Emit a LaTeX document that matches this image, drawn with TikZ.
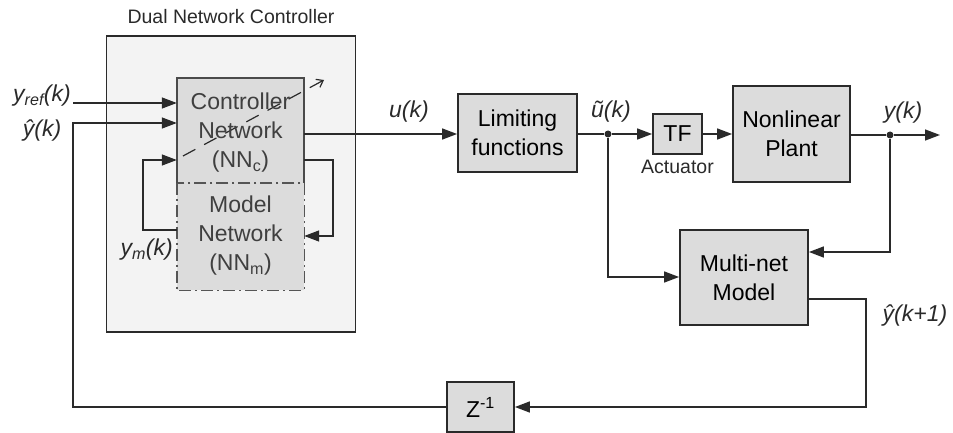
\documentclass[tikz,border=0pt]{standalone}
\usepackage{fontspec}
\setmainfont{Liberation Sans}
\usetikzlibrary{arrows.meta}
\definecolor{boxfill}{HTML}{DCDCDC}
\definecolor{outerfill}{HTML}{F3F3F3}
\definecolor{ink}{HTML}{2A2A2A}
\begin{document}
\begin{tikzpicture}[x=1pt,y=-1pt,
  bigf/.style={font=\fontsize{23}{29}\selectfont},
  smallf/.style={font=\fontsize{19.5}{23}\selectfont},
  blk/.style={draw=ink, line width=1.8pt, fill=boxfill, align=center, inner sep=0pt, bigf},
  ln/.style={line width=1.4pt, draw=ink},
  arr/.style={ln, -{Triangle[length=15pt,width=11pt]}},
  lbl/.style={bigf, inner sep=0pt, text=ink},
  dot/.style={circle, fill=ink, inner sep=0pt, minimum size=7pt},
  ddot/.style={line width=1.4pt, draw=ink!80, dash pattern=on 12pt off 4pt on 2pt off 4pt},
]
\useasboundingbox (0,0) rectangle (953,433);

% outer controller box
\node[draw=ink, line width=1.8pt, fill=outerfill, minimum width=249pt, minimum height=296pt, inner sep=0pt] (dnc) at (231,184) {};
\node[smallf, text=ink] (title) at (231,17) {Dual Network Controller};

% controller network (fill only, edges drawn)
\node[fill=boxfill, minimum width=127pt, minimum height=105pt, inner sep=0pt] (cn) at (240.5,130.5) {};
\node[fill=boxfill, minimum width=127pt, minimum height=107pt, inner sep=0pt] (mn) at (240.5,236.5) {};
\draw[ddot] (mn.north west) -- (mn.south west) -- (mn.south east) -- (mn.north east) -- cycle;
\draw[line width=1.8pt, draw=ink!85] (cn.south west) -- (cn.north west) -- (cn.north east) -- (cn.south east);
% adaptation arrow
\coordinate (ad1) at (183,156);
\coordinate (ad2) at (324,80);
\draw[line width=1.2pt, draw=ink, dash pattern=on 14pt off 10pt, -{Straight Barb[length=6pt,width=9pt]}] (ad1) -- (ad2);
\node[lbl, align=center, text=ink!90] (cnt) at (240.5,133) {Controller\\Network\\(NN\textsubscript{c})};
\node[lbl, align=center, text=ink!90] (mnt) at (240.5,236) {Model\\Network\\(NN\textsubscript{m})};

% other blocks
\node[blk, minimum width=119pt, minimum height=78pt] (lf) at (517.5,133) {Limiting\\functions};
\node[blk, minimum width=49pt, minimum height=40pt] (tf) at (677.5,134) {TF};
\node[smallf, text=ink] (act) at (677.5,167) {Actuator};
\node[blk, minimum width=117pt, minimum height=96pt] (np) at (791.5,134) {Nonlinear\\Plant};
\node[blk, minimum width=128pt, minimum height=95pt] (mm) at (744,277.5) {Multi-net\\Model};
\node[blk, minimum width=67pt, minimum height=50pt] (zb) at (480.5,407) {Z\textsuperscript{-1}};

% labels
\node[lbl, anchor=east] (yref) at (71,96) {\itshape y\textsubscript{ref}(k)};
\node[lbl] (yhat) at (42,131) {\itshape ŷ(k)};
\node[lbl, anchor=east] (ym) at (173,250) {\itshape y\textsubscript{m}(k)};
\node[lbl] (uk) at (409,112) {\itshape u(k)};
\node[lbl] (ut) at (611,112) {\itshape ũ(k)};
\node[lbl] (yk) at (903,113) {\itshape y(k)};
\node[lbl] (yk1) at (915,316) {\itshape ŷ(k+1)};

% coordinates
\coordinate (a1) at (73,103);
\coordinate (yh) at (73,123);
\coordinate (fbl) at (73,407);
\coordinate (lp1) at (143,230);
\coordinate (lp2) at (143,160);
\coordinate (rp1) at (333,160);
\coordinate (rp2) at (333,236);
\coordinate (uo) at (304,134);
\node[dot] (d1) at (608,134) {};
\node[dot] (d2) at (890,135) {};
\coordinate (yout) at (940,135);
\coordinate (d1b) at (608,277);
\coordinate (d2b) at (890,252);
\coordinate (mo) at (808,299);
\coordinate (mo1) at (866,299);
\coordinate (mo2) at (866,407);

% connectors
\draw[arr] (a1) -- (cn.west |- a1);
\draw[arr] (zb.west) -- (fbl) -- (yh) -- (cn.west |- yh);
\draw[arr] (mn.west |- lp1) -- (lp1) -- (lp2) -- (cn.west |- lp2);
\draw[arr] (cn.east |- rp1) -- (rp1) -- (rp2) -- (mn.east |- rp2);
\draw[arr] (uo) -- (lf.west |- uo);
\draw[ln] (lf.east |- d1) -- (d1);
\draw[arr] (d1) -- (tf.west |- d1);
\draw[arr] (tf.east) -- (np.west |- tf.east);
\draw[ln] (np.east |- d2) -- (d2);
\draw[arr] (d2) -- (yout);
\draw[arr] (d2) -- (d2b) -- (mm.east |- d2b);
\draw[arr] (d1) -- (d1b) -- (mm.west |- d1b);
\draw[arr] (mo) -- (mo1) -- (mo2) -- (zb.east);
\end{tikzpicture}
\end{document}
